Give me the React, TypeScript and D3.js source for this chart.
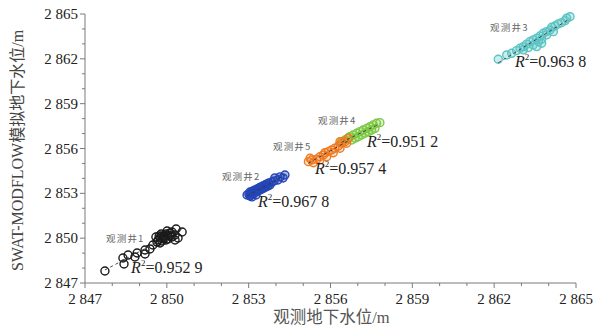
import React from 'react'
import * as d3 from 'd3'

// well names, colours and fit quality
const wellNames = ['观测井1', '观测井2', '观测井3', '观测井4', '观测井5']
const wellColors = ['#1a1a1a', '#2446b8', '#5cc4c4', '#7cc843', '#ef7a1f']
const wellFillOpacity = [0, 0.35, 0.3, 0.2, 0.2]
const r2Labels = ['0.952 9', '0.967 8', '0.963 8', '0.951 2', '0.957 4']

// observed / simulated groundwater level (m), one array per well
const well1Obs = [2847.73, 2848.43, 2848.39, 2848.58, 2848.83, 2848.91, 2849.2, 2849.2, 2849.38, 2849.49, 2849.64, 2849.68, 2849.75, 2849.82, 2849.82, 2849.9, 2849.93, 2849.97, 2850.04, 2850.04, 2850.12, 2850.19, 2850.19, 2850.3, 2850.34, 2850.41, 2850.56, 2850.3, 2849.6, 2849.75, 2850.01, 2850.12, 2849.72, 2849.86, 2849.97, 2849.79]
const well1Sim = [2847.8, 2848.27, 2848.67, 2848.87, 2848.74, 2849.01, 2848.94, 2849.21, 2849.28, 2849.54, 2849.74, 2849.88, 2850.01, 2849.81, 2850.15, 2850.15, 2850.01, 2850.28, 2850.21, 2849.95, 2850.35, 2850.41, 2850.08, 2850.21, 2850.61, 2850.01, 2850.41, 2849.88, 2850.08, 2849.68, 2850.48, 2850.15, 2850.15, 2849.95, 2849.88, 2850.28]

const well2Obs = [2852.94, 2853.01, 2853.05, 2853.09, 2853.12, 2853.16, 2853.2, 2853.23, 2853.27, 2853.31, 2853.34, 2853.38, 2853.42, 2853.45, 2853.49, 2853.52, 2853.56, 2853.6, 2853.63, 2853.67, 2853.71, 2853.74, 2853.78, 2853.85, 2853.96, 2854.15, 2854.33, 2854.26, 2854.07, 2853.93, 2853.12, 2853.27, 2853.05]
const well2Sim = [2852.89, 2852.96, 2853.09, 2852.89, 2853.02, 2853.16, 2853.02, 2853.22, 2853.09, 2853.29, 2853.16, 2853.36, 2853.22, 2853.43, 2853.29, 2853.49, 2853.36, 2853.56, 2853.43, 2853.63, 2853.49, 2853.69, 2853.56, 2853.76, 2854.03, 2854.1, 2854.23, 2854.03, 2853.89, 2853.83, 2852.76, 2852.89, 2852.82]

const well3Obs = [2862.15, 2862.46, 2862.64, 2862.82, 2862.95, 2863.07, 2863.19, 2863.31, 2863.43, 2863.56, 2863.68, 2863.8, 2863.92, 2864.05, 2864.11, 2864.23, 2864.35, 2864.47, 2864.6, 2864.66, 2864.78, 2863.07, 2863.25, 2863.43, 2863.62, 2863.74, 2863.92, 2864.17, 2863.74, 2863.56]
const well3Sim = [2861.97, 2862.26, 2862.37, 2862.55, 2862.71, 2862.82, 2862.98, 2863.15, 2863.27, 2863.38, 2863.53, 2863.71, 2863.82, 2863.93, 2864.11, 2864.2, 2864.34, 2864.42, 2864.56, 2864.72, 2864.82, 2862.6, 2862.75, 2862.93, 2863.15, 2863.31, 2863.6, 2863.82, 2863.04, 2862.82]

const well4Obs = [2856.41, 2856.53, 2856.65, 2856.71, 2856.84, 2856.96, 2857.08, 2857.2, 2857.33, 2857.45, 2857.57, 2857.69, 2857.81, 2856.78, 2857.02, 2857.26, 2857.51, 2856.9, 2857.14, 2857.39, 2857.63]
const well4Sim = [2856.46, 2856.57, 2856.69, 2856.79, 2856.91, 2857.02, 2857.13, 2857.24, 2857.35, 2857.46, 2857.58, 2857.69, 2857.73, 2856.57, 2856.79, 2857.02, 2857.24, 2856.69, 2856.91, 2857.13, 2857.35]

const well5Obs = [2855.19, 2855.31, 2855.49, 2855.61, 2855.74, 2855.8, 2855.92, 2856.04, 2856.16, 2856.29, 2856.41, 2856.53, 2856.65, 2855.37, 2855.61, 2855.86, 2856.1, 2856.35, 2856.59, 2855.25, 2856.35]
const well5Sim = [2855.12, 2855.23, 2855.28, 2855.45, 2855.57, 2855.72, 2855.79, 2855.9, 2856.02, 2856.17, 2856.35, 2856.46, 2856.69, 2855.05, 2855.23, 2855.45, 2855.72, 2856.02, 2856.35, 2855.35, 2856.46]

// annotation anchors in data units: [x, y]
const nameAnchors = [[2847.77, 2849.74], [2852.02, 2853.89], [2861.85, 2863.87], [2855.54, 2857.64], [2853.89, 2855.9]]
const r2Anchors = [[2848.69, 2847.67], [2853.34, 2852.09], [2862.76, 2861.46], [2857.34, 2856.1], [2855.43, 2854.3]]

const majorTicks = [2847, 2850, 2853, 2856, 2859, 2862, 2865]
const minorTicks = d3.range(2847, 2866, 1)

const W = 603
const H = 327
const margin = { left: 85, right: 27, top: 14, bottom: 44 }

const fmt = (v: number) => {
  const s = String(v)
  return s[0] + ' ' + s.slice(1)
}

// least squares line between the extreme observed values
const fit = (xs: number[], ys: number[]) => {
  const mx = d3.mean(xs) as number
  const my = d3.mean(ys) as number
  let num = 0
  let den = 0
  xs.forEach((x, i) => {
    num += (x - mx) * (ys[i] - my)
    den += (x - mx) * (x - mx)
  })
  const b = num / den
  const a = my - b * mx
  const [x0, x1] = d3.extent(xs) as [number, number]
  return [[x0, a + b * x0], [x1, a + b * x1]]
}

export default function App() {
  const x = d3.scaleLinear().domain([2847, 2865]).range([margin.left, W - margin.right])
  const y = d3.scaleLinear().domain([2847, 2865]).range([H - margin.bottom, margin.top])

  const wells = [
    [well1Obs, well1Sim],
    [well2Obs, well2Sim],
    [well3Obs, well3Sim],
    [well4Obs, well4Sim],
    [well5Obs, well5Sim],
  ]

  const axisColor = '#7a7a7a'
  const serif = '"Liberation Serif", "Times New Roman", "Noto Sans CJK SC", serif'
  const line = d3.line<number[]>().x(d => x(d[0])).y(d => y(d[1]))
  const y0 = y(2847)
  const x0 = x(2847)

  return (
    <svg width={W} height={H} style={{ position: 'absolute', left: 0, top: 0, background: '#fff' }}>
      {/* points */}
      {wells.map(([obs, sim], w) => (
        <g key={w}>
          {obs.map((v, i) => (
            <circle key={i} cx={x(v)} cy={y(sim[i])} r={4} fill={wellColors[w]}
              fillOpacity={wellFillOpacity[w]} stroke={wellColors[w]} strokeWidth={1.4} />
          ))}
        </g>
      ))}
      {/* fitted lines */}
      {wells.map(([obs, sim], w) => (
        <path key={'l' + w} d={line(fit(obs, sim)) as string} fill="none"
          stroke="#333" strokeWidth={0.9} strokeDasharray="3,3" />
      ))}

      {/* axes */}
      <line x1={x0} x2={x(2865)} y1={y0} y2={y0} stroke={axisColor} strokeWidth={1} />
      <line x1={x0} x2={x0} y1={y0} y2={y(2865)} stroke={axisColor} strokeWidth={1} />
      {minorTicks.map(t => {
        const major = majorTicks.includes(t)
        const len = major ? 5 : 3
        return (
          <g key={'t' + t}>
            <line x1={x(t)} x2={x(t)} y1={y0} y2={y0 + len} stroke={axisColor} />
            <line x1={x0} x2={x0 - len} y1={y(t)} y2={y(t)} stroke={axisColor} />
          </g>
        )
      })}
      {majorTicks.map(t => (
        <g key={'lab' + t} fontFamily={serif} fontSize={15} fill="#222">
          <text x={x(t)} y={y0 + 21} textAnchor="middle">{fmt(t)}</text>
          <text x={x0 - 7} y={y(t) + 5} textAnchor="end">{fmt(t)}</text>
        </g>
      ))}

      {/* axis titles */}
      <text x={(x0 + x(2865)) / 2 + 1} y={323} textAnchor="middle" fontSize={16.5}
        fill="#555" fontFamily={serif}>观测地下水位/m</text>
      <text transform={`translate(23,${(y0 + y(2865)) / 2 + 2}) rotate(-90)`} textAnchor="middle"
        fontSize={16} fill="#444" fontFamily={serif}>SWAT-MODFLOW模拟地下水位/m</text>

      {/* annotations */}
      {wellNames.map((n, w) => (
        <text key={'n' + w} x={x(nameAnchors[w][0])} y={y(nameAnchors[w][1])} fontSize={9.5}
          fill="#666" letterSpacing={1.2} fontFamily={'"Noto Sans CJK SC", sans-serif'}>{n}</text>
      ))}
      {r2Labels.map((r, w) => (
        <text key={'r' + w} x={x(r2Anchors[w][0])} y={y(r2Anchors[w][1])} fontSize={16}
          fill="#222" fontFamily={serif}>
          <tspan fontStyle="italic">R</tspan>
          <tspan fontSize={9} dy={-7}>2</tspan>
          <tspan dy={7}>={r}</tspan>
        </text>
      ))}
    </svg>
  )
}
